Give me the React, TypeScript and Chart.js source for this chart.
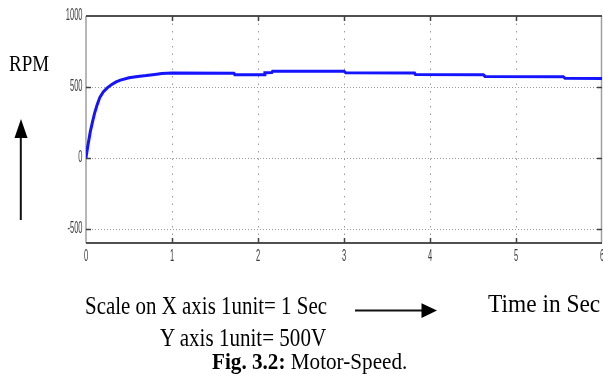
import React, { useEffect, useRef } from "react";
import { Chart, registerables } from "chart.js";

Chart.register(...registerables);

// Motor speed (RPM) vs time (s)
const TIME = [
  0, 0.02, 0.05, 0.08, 0.1, 0.13, 0.16, 0.2, 0.25, 0.3, 0.35, 0.4, 0.5, 0.6, 0.7, 0.8, 0.88, 1.0,
  1.72, 1.73, 2.07, 2.08, 2.16, 2.17, 3.0, 3.02, 3.82, 3.83, 4.62, 4.64, 5.55, 5.57, 6.0,
];
const RPM = [
  0, 80, 185, 265, 315, 375, 425, 465, 495, 518, 535, 548, 565, 574, 580, 588, 595, 598,
  596, 586, 586, 600, 602, 611, 611, 600, 598, 588, 586, 574, 572, 561, 560,
];
const X_TICKS = [0, 1, 2, 3, 4, 5, 6];
const Y_TICKS = [-500, 0, 500, 1000];
const X_MIN = 0;
const X_MAX = 6;
const Y_MIN = -600;
const Y_MAX = 1000;

const framePlugin = {
  id: "frame",
  beforeDatasetsDraw(chart: any) {
    const { ctx, chartArea, scales } = chart;
    const { left, right, top, bottom } = chartArea;
    const xs = scales.x;
    const ys = scales.y;
    ctx.save();
    // dotted grid
    ctx.strokeStyle = "#9a9a9a";
    ctx.lineWidth = 1;
    ctx.setLineDash([1.5, 6]);
    X_TICKS.forEach((v) => {
      if (v <= X_MIN || v >= X_MAX) return;
      const px = Math.round(xs.getPixelForValue(v)) + 0.5;
      ctx.beginPath();
      ctx.moveTo(px, top);
      ctx.lineTo(px, bottom);
      ctx.stroke();
    });
    ctx.setLineDash([1, 2]);
    Y_TICKS.forEach((v) => {
      if (v >= Y_MAX) return;
      const py = Math.round(ys.getPixelForValue(v)) + 0.5;
      ctx.beginPath();
      ctx.moveTo(left, py);
      ctx.lineTo(right, py);
      ctx.stroke();
    });
    ctx.setLineDash([]);
    // box
    ctx.strokeStyle = "#a0a0a0";
    ctx.lineWidth = 1.5;
    ctx.beginPath();
    ctx.moveTo(left, top);
    ctx.lineTo(left, bottom);
    ctx.moveTo(right - 0.5, top);
    ctx.lineTo(right - 0.5, bottom);
    ctx.stroke();
    ctx.strokeStyle = "#505050";
    ctx.lineWidth = 2;
    ctx.beginPath();
    ctx.moveTo(left, top);
    ctx.lineTo(right, top);
    ctx.moveTo(left, bottom);
    ctx.lineTo(right, bottom);
    ctx.stroke();
    // inward ticks
    ctx.strokeStyle = "#404040";
    ctx.lineWidth = 1.5;
    X_TICKS.forEach((v) => {
      if (v <= X_MIN || v >= X_MAX) return;
      const px = Math.round(xs.getPixelForValue(v)) + 0.5;
      ctx.beginPath();
      ctx.moveTo(px, top);
      ctx.lineTo(px, top + 5);
      ctx.moveTo(px, bottom);
      ctx.lineTo(px, bottom - 5);
      ctx.stroke();
    });
    Y_TICKS.forEach((v) => {
      if (v >= Y_MAX) return;
      const py = Math.round(ys.getPixelForValue(v)) + 0.5;
      ctx.beginPath();
      ctx.moveTo(left, py);
      ctx.lineTo(left + 5, py);
      ctx.moveTo(right, py);
      ctx.lineTo(right - 5, py);
      ctx.stroke();
    });
    ctx.restore();
  },
  afterDraw(chart: any) {
    const { ctx, chartArea, scales } = chart;
    const { left, bottom } = chartArea;
    const xs = scales.x;
    const ys = scales.y;
    ctx.save();
    ctx.fillStyle = "#3c3c3c";
    ctx.font = "16px 'Liberation Sans', Arial, sans-serif";
    ctx.textBaseline = "middle";
    const sx = 0.47;
    Y_TICKS.forEach((v) => {
      const py = ys.getPixelForValue(v);
      ctx.save();
      ctx.translate(left - 3.5, py);
      ctx.scale(sx, 1);
      ctx.textAlign = "right";
      ctx.fillText(String(v), 0, 0);
      ctx.restore();
    });
    X_TICKS.forEach((v) => {
      const px = xs.getPixelForValue(v);
      ctx.save();
      ctx.translate(px, bottom + 14);
      ctx.scale(sx, 1);
      ctx.textAlign = "center";
      ctx.fillText(String(v), 0, 0);
      ctx.restore();
    });
    ctx.restore();
  },
};

const serif = "'Liberation Serif', 'Times New Roman', serif";

function Label(props: {
  left: number;
  top: number;
  size: number;
  sx: number;
  children: React.ReactNode;
}) {
  return (
    <div
      style={{
        position: "absolute",
        left: props.left,
        top: props.top,
        fontFamily: serif,
        fontSize: props.size,
        lineHeight: 1,
        whiteSpace: "nowrap",
        color: "#000",
        transform: `scaleX(${props.sx})`,
        transformOrigin: "left top",
      }}
    >
      {props.children}
    </div>
  );
}

export default function App() {
  const canvasRef = useRef<HTMLCanvasElement | null>(null);

  useEffect(() => {
    const canvas = canvasRef.current;
    if (!canvas) return;
    const chart = new Chart(canvas, {
      type: "line",
      data: {
        datasets: [
          {
            label: "Motor speed",
            data: TIME.map((t, i) => ({ x: t, y: RPM[i] })),
            borderColor: "#1414ff",
            borderWidth: 3,
            pointRadius: 0,
            tension: 0,
            fill: false,
          },
        ],
      },
      options: {
        animation: false,
        responsive: false,
        devicePixelRatio: 1,
        layout: { padding: { top: 16, right: 1, left: 0, bottom: 0 } },
        plugins: {
          legend: { display: false },
          tooltip: { enabled: false },
          title: { display: false },
        },
        scales: {
          x: {
            type: "linear",
            min: X_MIN,
            max: X_MAX,
            ticks: { display: false, stepSize: 1 },
            grid: { display: false },
            border: { display: false },
            afterFit: (s: any) => {
              s.height = 131;
            },
          },
          y: {
            type: "linear",
            min: Y_MIN,
            max: Y_MAX,
            ticks: { display: false },
            grid: { display: false },
            border: { display: false },
            afterBuildTicks: (s: any) => {
              s.ticks = Y_TICKS.map((v) => ({ value: v }));
            },
            afterFit: (s: any) => {
              s.width = 86;
            },
          },
        },
      },
      plugins: [framePlugin],
    });
    return () => chart.destroy();
  }, []);

  return (
    <div
      style={{
        position: "fixed",
        left: 0,
        top: 0,
        width: 603,
        height: 374,
        background: "#fff",
        overflow: "hidden",
      }}
    >
      <canvas ref={canvasRef} width={603} height={374} style={{ display: "block" }} />
      <Label left={9} top={50.6} size={24} sx={0.79}>
        RPM
      </Label>
      <svg
        width={603}
        height={374}
        style={{ position: "absolute", left: 0, top: 0, pointerEvents: "none" }}
      >
        <line x1={20.8} y1={220} x2={20.8} y2={134} stroke="#111" strokeWidth={2} />
        <polygon points="21,119 14.5,138 27.5,138" fill="#000" />
        <line x1={355} y1={310.5} x2={426} y2={310.5} stroke="#111" strokeWidth={2.2} />
        <polygon points="437,310.5 421.5,303.3 421.5,318" fill="#000" />
      </svg>
      <Label left={85} top={293.2} size={26} sx={0.805}>
        Scale on X axis 1unit= 1 Sec
      </Label>
      <Label left={160} top={324.9} size={26} sx={0.81}>
        Y axis 1unit= 500V
      </Label>
      <Label left={211.5} top={349.7} size={23} sx={0.92}>
        <b>Fig. 3.2:</b> Motor-Speed.
      </Label>
      <Label left={488} top={291.2} size={26} sx={0.9}>
        Time in Sec
      </Label>
    </div>
  );
}
